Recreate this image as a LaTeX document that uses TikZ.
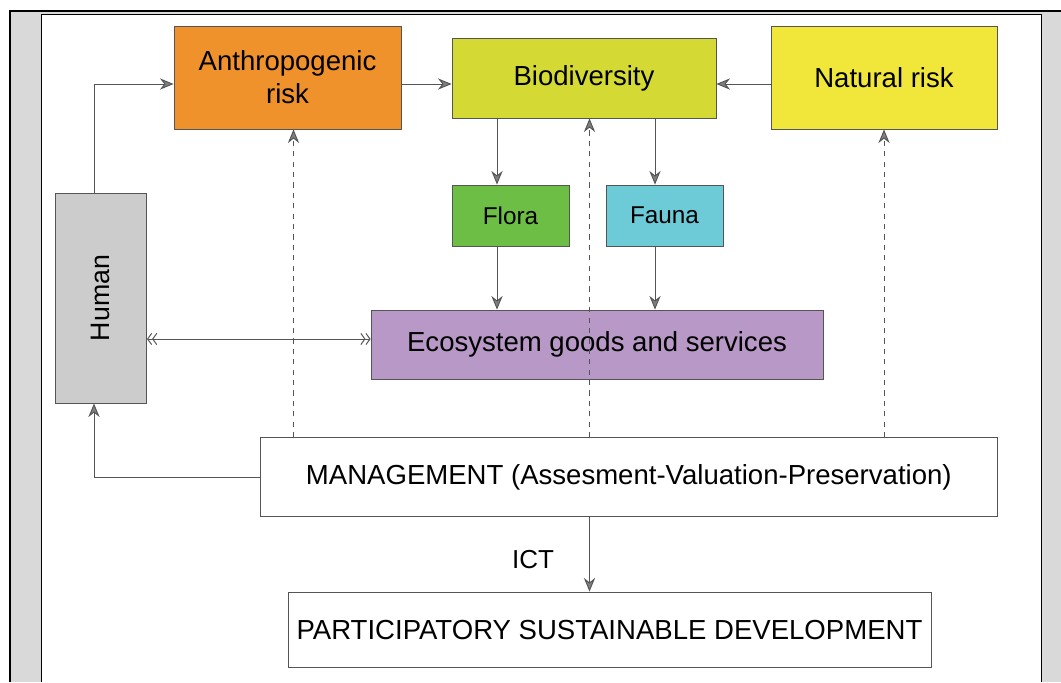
\documentclass[tikz,border=0pt]{standalone}
\usepackage{fontspec}
\setmainfont{Liberation Sans}
\usetikzlibrary{positioning,arrows.meta}

\definecolor{anthrofill}{HTML}{F0922B}
\definecolor{biofill}{HTML}{D4DA33}
\definecolor{naturalfill}{HTML}{F1E73A}
\definecolor{florafill}{HTML}{6CBE45}
\definecolor{faunafill}{HTML}{6DCBD8}
\definecolor{ecofill}{HTML}{B798C6}
\definecolor{humanfill}{HTML}{CCCCCC}
\definecolor{framefill}{HTML}{D9D9D9}
\definecolor{linkgray}{HTML}{555555}

\begin{document}
\begin{tikzpicture}[x=0.25mm, y=-0.25mm,
                    boxnode/.style={rectangle, draw=linkgray, line width=0.6pt, inner sep=0pt, align=center, font=\fontsize{19.6}{23.6}\selectfont},
                    smallnode/.style={boxnode, font=\fontsize{17.3}{20}\selectfont},
                    link/.style={draw=linkgray, line width=0.7pt, -{Stealth[length=3.4mm, width=2.8mm, inset=1.1mm, fill=gray]}},
                    dashlink/.style={link, dash pattern=on 1.3mm off 1.3mm},
                    twolink/.style={draw=linkgray, line width=0.7pt, {Straight Barb[length=1mm, width=2.8mm]Straight Barb[length=1mm, width=2.8mm]}-{Straight Barb[length=1mm, width=2.8mm]Straight Barb[length=1mm, width=2.8mm]}},
                ]
                    \useasboundingbox (0,0) rectangle (1061,682);

                    %Frame
                    \fill[framefill] (10,11) rectangle (1061,682);
                    \draw[line width=0.5mm] (10,682) -- (10,11) -- (1061,11);
                    \draw[fill=white, line width=0.5pt] (41,682) -- (41,14) -- (1041.7,14) -- (1041.7,682);

                    %Nodes
                    \node[boxnode, fill=anthrofill, minimum width=56.75mm, minimum height=25.75mm](anthro) at (287.5,77.5) {Anthropogenic\\risk};
                    \node[boxnode, fill=biofill, minimum width=66mm, minimum height=20mm](bio) at (584,78) {Biodiversity};
                    \node[boxnode, fill=naturalfill, minimum width=56.5mm, minimum height=25.75mm](natural) at (884,77.5) {Natural risk};
                    \node[smallnode, fill=florafill, minimum width=29.25mm, minimum height=15.25mm](flora) at (510.5,215.5) {Flora};
                    \node[smallnode, fill=faunafill, minimum width=29.25mm, minimum height=15.25mm](fauna) at (664.5,215.5) {Fauna};
                    \node[boxnode, fill=humanfill, minimum width=52.5mm, minimum height=22.9mm, rotate=90, font=\fontsize{19}{22}\selectfont](human) at (100.8,298) {Human};
                    \node[boxnode, fill=ecofill, minimum width=113mm, minimum height=17.25mm](eco) at (597,344.5) {Ecosystem goods and services};
                    \node[boxnode, fill=white, minimum width=184.4mm, minimum height=19.8mm](mgmt) at (628.8,477.3) {MANAGEMENT (Assesment-Valuation-Preservation)};
                    \node[boxnode, fill=white, minimum width=160.75mm, minimum height=18.75mm](part) at (609.5,629.5) {PARTICIPATORY SUSTAINABLE DEVELOPMENT};
                    \node[font=\fontsize{18.5}{21}\selectfont](ict) at (533,560) {ICT};

                    %Anchors for the lines
                    \coordinate (humx) at (94,0);
                    \coordinate (toprow) at (0,84);
                    \coordinate (florax) at (497,0);
                    \coordinate (faunax) at (655,0);
                    \coordinate (ecoy) at (0,339);
                    \coordinate (anthrox) at (293.5,0);
                    \coordinate (midx) at (589.5,0);

                    %Lines
                    \draw[link](human.east -| humx) |- (anthro.west |- toprow);
                    \draw[link](anthro.east |- toprow) -- (bio.west |- toprow);
                    \draw[link](natural.west |- toprow) -- (bio.east |- toprow);
                    \draw[link](bio.south -| florax) -- (flora.north -| florax);
                    \draw[link](bio.south -| faunax) -- (fauna.north -| faunax);
                    \draw[link](flora.south -| florax) -- (eco.north -| florax);
                    \draw[link](fauna.south -| faunax) -- (eco.north -| faunax);
                    \draw[twolink](human.south |- ecoy) -- (eco.west |- ecoy);
                    \draw[link](mgmt.west) -| (human.west -| humx);
                    \draw[dashlink](mgmt.north -| anthrox) -- (anthro.south -| anthrox);
                    \draw[dashlink](mgmt.north -| midx) -- (bio.south -| midx);
                    \draw[dashlink](mgmt.north -| natural) -- (natural.south);
                    \draw[link](mgmt.south -| midx) -- (part.north -| midx);
                \end{tikzpicture}
\end{document}
